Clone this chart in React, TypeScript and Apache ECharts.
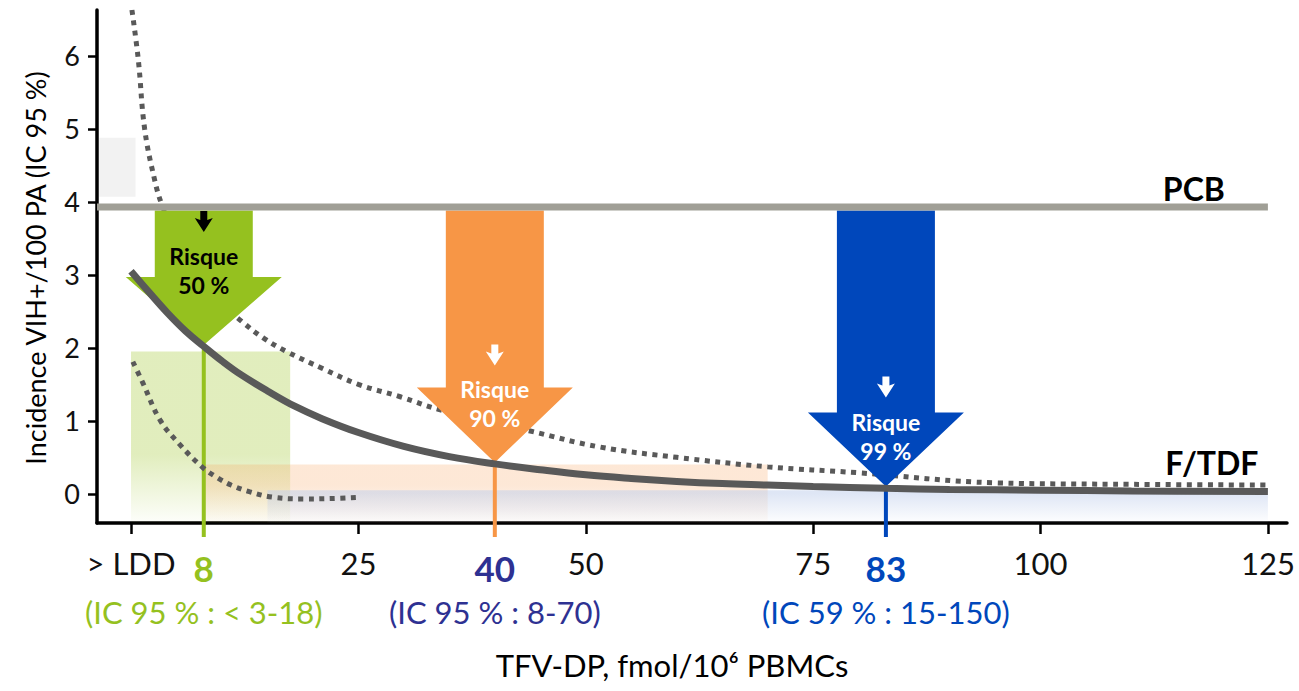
import React, { useEffect, useRef } from 'react';
import * as echarts from 'echarts';

// ---------- axes ----------
const X_MIN = -3.74;
const X_MAX = 127.1;
const Y_MIN = -0.4;
const Y_MAX = 6.63;
const X_TICKS = [0, 25, 50, 75, 100, 125];
const X_TICK_LABELS = ['> LDD', '25', '50', '75', '100', '125'];
const Y_TICKS = [0, 1, 2, 3, 4, 5, 6];

// ---------- fitted incidence curve (F/TDF) ----------
const FIT_X = [0, 2, 4, 6, 8, 10, 12, 15, 18, 21, 25, 30, 35, 40, 45, 50, 55, 60, 65, 70, 75, 83, 90, 100, 110, 125];
const FIT_Y = [3.05, 2.76, 2.48, 2.23, 2.02, 1.82, 1.64, 1.41, 1.2, 1.03, 0.84, 0.65, 0.51, 0.41, 0.33, 0.26, 0.21, 0.17, 0.14, 0.12, 0.1, 0.075, 0.06, 0.05, 0.04, 0.03];

// ---------- 95 % CI (dotted) ----------
const UPPER_X = [0.1, 0.8, 1.5, 2.6, 3.4, 5, 7, 9.5, 12.2, 14.5, 17.1, 21, 25, 29.6, 34, 40, 43.9, 51.6, 60, 70, 79.8, 95.2, 110, 125];
const UPPER_Y = [6.63, 5.95, 5.0, 4.3, 3.96, 3.5, 3.05, 2.65, 2.36, 2.14, 1.95, 1.72, 1.5, 1.33, 1.15, 0.98, 0.86, 0.64, 0.5, 0.37, 0.29, 0.15, 0.13, 0.12];
const LOWER_X = [0.2, 1.3, 3.2, 5.4, 7.9, 9.5, 11, 13, 15.5, 19, 22, 25];
const LOWER_Y = [1.81, 1.52, 1.01, 0.67, 0.36, 0.22, 0.12, 0.03, -0.045, -0.07, -0.065, -0.05];

// ---------- reference level (PCB) ----------
const PCB_LEVEL = 3.93;

// ---------- CI bands ----------
const BAND_FROM = [0, 8, 15];
const BAND_TO = [17.5, 70, 125];
const BAND_TOP = [1.95, 0.4, 0.05];
const PATCH_FROM = [-3.5, 4.88];
const PATCH_TO = [0.5, 4.07];

// ---------- risk arrows ----------
const ARROW_X = [8, 40, 83];
const ARROW_TIP = [2.04, 0.43, 0.1];
const ARROW_RISK = ['50 %', '90 %', '99 %'];
const POINT_LABELS = ['8', '40', '83'];
const CI_LABELS = ['(IC 95 % : < 3-18)', '(IC 95 % : 8-70)', '(IC 59 % : 15-150)'];

// ---------- styles ----------
const FONT = 'Lato, "Noto Sans", sans-serif';
const ARROW_COLORS = ['#95c11f', '#f79646', '#0047bb'];
const ARROW_TEXT_COLORS = ['#000000', '#ffffff', '#ffffff'];
const LABEL_COLORS = ['#95c11f', '#2e3192', '#0047bb'];
const ARROW_TEXT_LIFT = [89, 73, 65];
const ARROW_HEAD_H = [68, 75, 74];
const BAND_RGB = ['155,196,36', '247,150,70', '190,205,235'];
const BAND_ALPHA = [0.3, 0.22, 0.5];
const BAND_HOLD = [0.6, 0.35, 0.1];
const CURVE_COLOR = '#595959';

const pairs = (xs: number[], ys: number[]) => xs.map((x, i) => [x, ys[i]]);

function renderArrow(params: any, api: any) {
  const i = api.value(2);
  const x = api.value(0);
  const tip = api.coord([x, api.value(1)]);
  const top = api.coord([x, PCB_LEVEL]);
  const bottom = api.coord([x, Y_MIN]);
  const cx = tip[0];
  const ty = tip[1];
  const sy = top[1] + 3.5;
  const headH = ARROW_HEAD_H[i];
  const hy = ty - headH;
  const headHalf = 78;
  const shaftHalf = 49;
  const color = ARROW_COLORS[i];
  const tcol = ARROW_TEXT_COLORS[i];
  const riskY = ty - ARROW_TEXT_LIFT[i];
  const iconY = riskY - 34;
  const pctY = riskY + 29;
  return {
    type: 'group',
    children: [
      {
        type: 'line',
        shape: { x1: cx, y1: ty, x2: cx, y2: bottom[1] + 14 },
        style: { stroke: color, lineWidth: 4 },
      },
      {
        type: 'polygon',
        shape: {
          points: [
            [cx - shaftHalf, sy], [cx + shaftHalf, sy], [cx + shaftHalf, hy], [cx + headHalf, hy],
            [cx, ty], [cx - headHalf, hy], [cx - shaftHalf, hy],
          ],
        },
        style: { fill: color },
      },
      {
        type: 'polygon',
        shape: {
          points: [
            [cx - 3.5, iconY - 11], [cx + 3.5, iconY - 11], [cx + 3.5, iconY - 2], [cx + 9, iconY - 4],
            [cx, iconY + 10], [cx - 9, iconY - 4], [cx - 3.5, iconY - 2],
          ],
        },
        style: { fill: tcol },
      },
      {
        type: 'text',
        style: {
          text: 'Risque', x: cx, y: riskY, fill: tcol, font: `bold 23px ${FONT}`,
          align: 'center', verticalAlign: 'middle', textAlign: 'center', textVerticalAlign: 'middle',
        },
      },
      {
        type: 'text',
        style: {
          text: ARROW_RISK[i], x: cx, y: pctY, fill: tcol, font: `bold 23px ${FONT}`,
          align: 'center', verticalAlign: 'middle', textAlign: 'center', textVerticalAlign: 'middle',
        },
      },
    ],
  };
}

export default function App() {
  const ref = useRef<HTMLDivElement>(null);

  useEffect(() => {
    const chart = echarts.init(ref.current!, null, { renderer: 'svg' });

    const bandAreas: any[] = BAND_FROM.map((x0, i) => [
      {
        coord: [x0, BAND_TOP[i]],
        itemStyle: {
          color: {
            type: 'linear', x: 0, y: 0, x2: 0, y2: 1,
            colorStops: [
              { offset: 0, color: `rgba(${BAND_RGB[i]},${BAND_ALPHA[i]})` },
              { offset: BAND_HOLD[i], color: `rgba(${BAND_RGB[i]},${BAND_ALPHA[i]})` },
              { offset: 1, color: `rgba(${BAND_RGB[i]},0.02)` },
            ],
          },
        },
      },
      { coord: [BAND_TO[i], Y_MIN] },
    ]);
    bandAreas.push([
      { coord: PATCH_FROM, itemStyle: { color: '#f2f2f2' } },
      { coord: PATCH_TO },
    ]);

    const option: any = {
      animation: false,
      grid: { left: 97, right: 12, top: 10, bottom: 168, containLabel: false },
      xAxis: {
        type: 'value',
        min: X_MIN,
        max: X_MAX,
        axisLine: { onZero: false, lineStyle: { color: '#000', width: 3.5 } },
        axisTick: { show: true, length: 11, lineStyle: { color: '#000', width: 2.5 }, customValues: X_TICKS },
        axisLabel: {
          customValues: X_TICKS,
          formatter: (v: number) => X_TICK_LABELS[X_TICKS.indexOf(v)] ?? '',
          color: '#111',
          fontFamily: FONT,
          fontSize: 31,
          margin: 24,
        },
        splitLine: { show: false },
      },
      yAxis: {
        type: 'value',
        min: Y_MIN,
        max: Y_MAX,
        axisLine: { show: true, onZero: false, lineStyle: { color: '#000', width: 3.5 } },
        axisTick: { show: true, length: 9, lineStyle: { color: '#000', width: 2.5 }, customValues: Y_TICKS },
        axisLabel: {
          customValues: Y_TICKS,
          color: '#111',
          fontFamily: FONT,
          fontSize: 27,
          margin: 17,
        },
        splitLine: { show: false },
      },
      series: [
        {
          name: 'bands',
          type: 'line',
          data: [],
          z: 1,
          silent: true,
          markArea: { silent: true, data: bandAreas },
        },
        {
          name: 'IC sup',
          type: 'line',
          data: pairs(UPPER_X, UPPER_Y),
          smooth: 0.4,
          symbol: 'none',
          z: 2,
          lineStyle: { color: CURVE_COLOR, width: 5, type: [5, 5.5], cap: 'butt' },
        },
        {
          name: 'arrows',
          type: 'custom',
          renderItem: renderArrow,
          data: ARROW_X.map((x, i) => [x, ARROW_TIP[i], i]),
          encode: { x: 0, y: 1 },
          z: 3,
          silent: true,
        },
        {
          name: 'IC inf',
          type: 'line',
          data: pairs(LOWER_X, LOWER_Y),
          smooth: 0.4,
          symbol: 'none',
          z: 4,
          lineStyle: { color: CURVE_COLOR, width: 5, type: [5, 5.5], cap: 'butt' },
        },
        {
          name: 'F/TDF',
          type: 'line',
          data: pairs(FIT_X, FIT_Y),
          smooth: 0.4,
          symbol: 'none',
          z: 5,
          lineStyle: { color: CURVE_COLOR, width: 7 },
        },
        {
          name: 'PCB',
          type: 'line',
          data: [[X_MIN, PCB_LEVEL], [X_TICKS[X_TICKS.length - 1], PCB_LEVEL]],
          symbol: 'none',
          z: 6,
          lineStyle: { color: '#a09f96', width: 7 },
        },
      ],
    };
    chart.setOption(option);

    const toPx = (x: number, y: number) =>
      chart.convertToPixel({ xAxisIndex: 0, yAxisIndex: 0 }, [x, y]) as number[];
    const txt = (text: string, x: number, y: number, font: string, fill: string, extra: any = {}) => ({
      type: 'text',
      x,
      y,
      ...extra,
      style: {
        text, font, fill,
        align: 'center', verticalAlign: 'middle', textAlign: 'center', textVerticalAlign: 'middle',
      },
    });

    const graphics: any[] = [];
    const pcbEnd = toPx(X_TICKS[X_TICKS.length - 1], PCB_LEVEL);
    graphics.push(txt('PCB', pcbEnd[0] - 74, pcbEnd[1] - 19, `bold 32px ${FONT}`, '#000'));
    const fitEnd = toPx(FIT_X[FIT_X.length - 1], FIT_Y[FIT_Y.length - 1]);
    graphics.push(txt('F/TDF', fitEnd[0] - 56, fitEnd[1] - 29, `bold 32px ${FONT}`, '#000'));
    ARROW_X.forEach((x, i) => {
      const p = toPx(x, Y_MIN);
      graphics.push(txt(POINT_LABELS[i], p[0], p[1] + 45, `bold 35px ${FONT}`, LABEL_COLORS[i]));
      graphics.push(txt(CI_LABELS[i], p[0], p[1] + 89, `31px ${FONT}`, LABEL_COLORS[i]));
    });
    const origin = toPx(X_MIN, Y_MIN);
    const corner = toPx(X_MAX, Y_MAX);
    graphics.push(txt('TFV-DP, fmol/10⁶ PBMCs', (origin[0] + corner[0]) / 2 - 20, origin[1] + 142, `31px ${FONT}`, '#000'));
    graphics.push(
      txt('Incidence VIH+/100 PA (IC 95 %)', origin[0] - 62, 268, `27px ${FONT}`, '#000', { rotation: Math.PI / 2 })
    );
    chart.setOption({ graphic: graphics });

    return () => chart.dispose();
  }, []);

  return <div ref={ref} style={{ position: 'absolute', left: 0, top: 0, width: 1299, height: 691 }} />;
}
